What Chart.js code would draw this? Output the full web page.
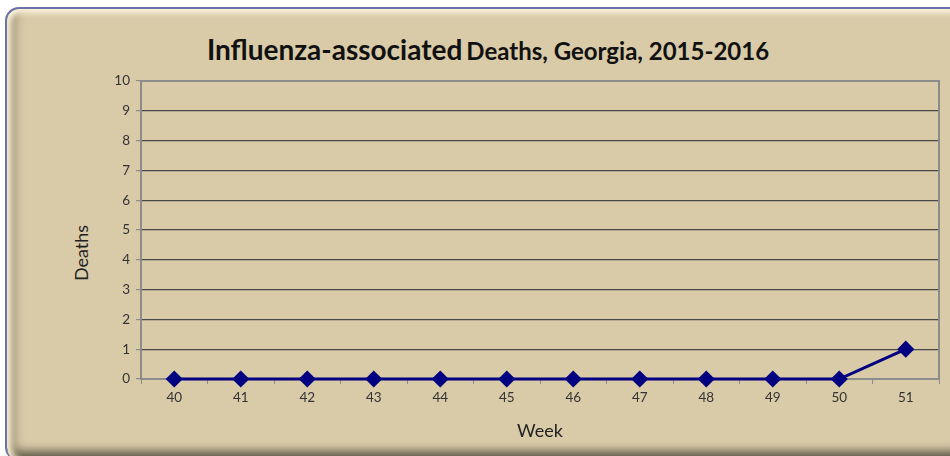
<!DOCTYPE html>
<html>
<head>
<meta charset="utf-8">
<script src="https://cdn.jsdelivr.net/npm/chart.js@4"></script>
<style>
  html, body { margin: 0; padding: 0; background: #fff; }
  #wrap { position: relative; width: 950px; height: 456px; overflow: hidden; }
  #card {
    position: absolute; left: 5px; top: 7px; width: 960px; height: 452px;
    border-radius: 14px; background: #d9caa8;
    border-top: 2px solid #6a72a8; border-left: 2px solid #6a72a8;
    box-shadow: inset 0 5px 6px -1px #fbf5dc, inset 7px 0 6px -2px #efe4c6,
                inset 16px 0 10px -8px #8f8468, inset 0 -16px 10px -6px #5f5946;
  }
  #title {
    position: absolute; left: 0; top: 32px; width: 976px; text-align: center;
    font-family: Lato, sans-serif; font-weight: bold; color: #111; line-height: 34px;
  }
  #title .big { font-size: 28px; }
  #title .small { font-size: 24px; }
  #ytitle {
    position: absolute; left: 81px; top: 253px; transform: translate(-50%, -50%) rotate(-90deg);
    font-family: Lato, sans-serif; font-size: 18px; color: #222; white-space: nowrap;
  }
  canvas { position: absolute; left: 0; top: 0; }
</style>
</head>
<body>
<div id="wrap">
  <div id="card"></div>
  <div id="title"><span class="big">Influenza-associated</span> <span class="small">Deaths, Georgia, 2015-2016</span></div>
  <div id="ytitle">Deaths</div>
  <canvas id="myChart" width="950" height="456"></canvas>
</div>
<script>
'use strict';

var weeks = ['40', '41', '42', '43', '44', '45', '46', '47', '48', '49', '50', '51'];
var deaths = [0, 0, 0, 0, 0, 0, 0, 0, 0, 0, 0, 1];
var yTicks = [0, 10, 1]; // min, max, step

var ctx = document.getElementById('myChart');

// top and right edges of the plot frame
var frame = {
  id: 'frame',
  beforeDatasetsDraw: function(chart) {
    var a = chart.chartArea, c = chart.ctx;
    c.save();
    c.strokeStyle = '#8c8c8c';
    c.lineWidth = 2;
    c.beginPath();
    c.moveTo(a.left, a.top);
    c.lineTo(a.right, a.top);
    c.lineTo(a.right, a.bottom);
    c.stroke();
    c.restore();
  }
};

var myChart = new Chart(ctx, {
  type: 'line',
  data: {
    labels: weeks,
    datasets: [{
      data: deaths,
      borderColor: '#000080',
      backgroundColor: '#000080',
      borderWidth: 3,
      pointStyle: 'rectRot',
      pointRadius: 6.5,
      pointHoverRadius: 6.5,
      pointBackgroundColor: '#000080',
      pointBorderColor: '#000080',
      tension: 0,
      clip: false,
      fill: false
    }]
  },
  options: {
    responsive: false,
    animation: false,
    events: [],
    layout: { padding: { left: 67, right: 11, top: 81, bottom: 11 } },
    plugins: {
      legend: { display: false },
      tooltip: { enabled: false }
    },
    scales: {
      x: {
        offset: true,
        afterFit: function(s) { s.height = 66; },
        grid: {
          offset: true,
          drawOnChartArea: false,
          drawTicks: true,
          tickLength: 5,
          color: '#8c8c8c'
        },
        border: { color: '#8c8c8c', width: 2 },
        ticks: {
          padding: 6,
          color: '#333',
          font: { family: 'Lato', size: 13.5 },
          maxRotation: 0
        },
        title: {
          display: true,
          text: 'Week',
          color: '#222',
          font: { family: 'Lato', size: 18 },
          padding: { top: 4, bottom: 3 }
        }
      },
      y: {
        min: yTicks[0],
        max: yTicks[1],
        afterFit: function(s) { s.width = 74; },
        grid: {
          tickLength: 5,
          color: function(c) { return c.tick && c.tick.value === 10 ? '#8c8c8c' : '#484848'; },
          tickColor: '#8c8c8c',
          lineWidth: 1.2
        },
        border: { color: '#8c8c8c', width: 2 },
        ticks: {
          stepSize: yTicks[2],
          padding: 6,
          color: '#333',
          font: { family: 'Lato', size: 13.5 }
        }
      }
    }
  },
  plugins: [frame]
});
</script>
</body>
</html>
